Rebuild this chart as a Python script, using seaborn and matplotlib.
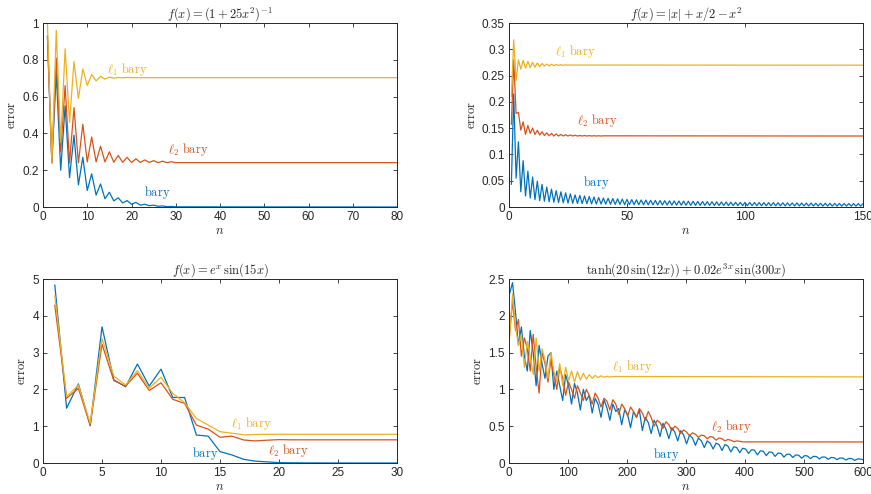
import numpy as np
import pandas as pd
import seaborn as sns
import matplotlib.pyplot as plt
from matplotlib.ticker import FormatStrFormatter

# colores tipo MATLAB
c_bary = '#0072BD'
c_l2 = '#D95319'
c_l1 = '#EDB120'

# ---- panel 1: f(x) = (1+25x^2)^-1
n1 = list(range(1, 31)) + [80]
p1_bary = [0.93, 0.24, 0.73, 0.20, 0.55, 0.16, 0.39, 0.12, 0.27, 0.09,
           0.18, 0.065, 0.125, 0.045, 0.08, 0.033, 0.05, 0.022, 0.035, 0.015,
           0.025, 0.01, 0.015, 0.007, 0.01, 0.004, 0.006, 0.002, 0.003, 0.001,
           0.0]
p1_l2 = [0.93, 0.24, 0.81, 0.30, 0.66, 0.24, 0.54, 0.24, 0.45, 0.245,
         0.38, 0.245, 0.33, 0.245, 0.30, 0.243, 0.28, 0.243, 0.27, 0.242,
         0.262, 0.242, 0.256, 0.242, 0.252, 0.241, 0.249, 0.241, 0.246, 0.241,
         0.241]
p1_l1 = [1.0, 0.24, 0.96, 0.35, 0.86, 0.46, 0.79, 0.59, 0.75, 0.66,
         0.72, 0.685, 0.71, 0.695, 0.705, 0.70, 0.704, 0.702, 0.704, 0.703,
         0.703, 0.703, 0.703, 0.703, 0.703, 0.703, 0.703, 0.703, 0.703, 0.703,
         0.703]

# ---- panel 2: f(x) = |x| + x/2 - x^2
n2_bary = list(range(1, 151))
p2_bary = [0.043, 0.215, 0.055, 0.124, 0.029, 0.088, 0.021, 0.068, 0.017, 0.057,
           0.014, 0.049, 0.012, 0.043, 0.011, 0.038, 0.010, 0.034, 0.009, 0.031,
           0.0085, 0.029, 0.008, 0.027, 0.0075, 0.025, 0.007, 0.023, 0.0068, 0.022,
           0.0065, 0.021, 0.0063, 0.020, 0.006, 0.019, 0.0058, 0.018, 0.0056, 0.017,
           0.0054, 0.0165, 0.0052, 0.016, 0.005, 0.0155, 0.0048, 0.015, 0.0046, 0.0145,
           0.0045, 0.014, 0.0044, 0.0137, 0.0043, 0.0134, 0.0042, 0.0131, 0.0041, 0.0128,
           0.004, 0.0125, 0.0039, 0.0122, 0.0038, 0.012, 0.0037, 0.0118, 0.0036, 0.0116,
           0.0035, 0.0114, 0.0034, 0.0112, 0.0033, 0.011, 0.0032, 0.0108, 0.0031, 0.0106,
           0.003, 0.0104, 0.003, 0.0102, 0.0029, 0.01, 0.0029, 0.0098, 0.0028, 0.0096,
           0.0028, 0.0094, 0.0027, 0.0092, 0.0027, 0.009, 0.0026, 0.0089, 0.0026, 0.0088,
           0.0025, 0.0087, 0.0025, 0.0086, 0.0024, 0.0085, 0.0024, 0.0084, 0.0023, 0.0083,
           0.0023, 0.0082, 0.0022, 0.0081, 0.0022, 0.008, 0.0021, 0.0079, 0.0021, 0.0078,
           0.002, 0.0077, 0.002, 0.0076, 0.002, 0.0075, 0.0019, 0.0074, 0.0019, 0.0073,
           0.0019, 0.0072, 0.0018, 0.0071, 0.0018, 0.007, 0.0018, 0.0069, 0.0017, 0.0068,
           0.0017, 0.0067, 0.0017, 0.0066, 0.0016, 0.0066, 0.0016, 0.0065, 0.0016, 0.0065]
n2_l2 = list(range(1, 41)) + [150]
p2_l2 = [0.157, 0.28, 0.178, 0.18, 0.146, 0.162, 0.138, 0.155, 0.14, 0.15,
         0.138, 0.146, 0.137, 0.143, 0.136, 0.141, 0.1355, 0.14, 0.135, 0.139,
         0.135, 0.138, 0.135, 0.1375, 0.135, 0.137, 0.135, 0.1365, 0.135, 0.136,
         0.135, 0.136, 0.135, 0.1358, 0.135, 0.1356, 0.135, 0.1355, 0.135, 0.1354,
         0.135]
n2_l1 = list(range(1, 31)) + [150]
p2_l1 = [0.21, 0.318, 0.24, 0.28, 0.262, 0.279, 0.264, 0.277, 0.265, 0.275,
         0.266, 0.274, 0.267, 0.273, 0.268, 0.272, 0.2685, 0.2715, 0.269, 0.271,
         0.2693, 0.2707, 0.2695, 0.2705, 0.2697, 0.2703, 0.2698, 0.2702, 0.27, 0.27,
         0.2698]

# ---- panel 3: f(x) = e^x sin(15x)
n3 = list(range(1, 31))
p3_bary = [4.84, 1.49, 2.15, 1.01, 3.70, 2.26, 2.07, 2.69, 2.09, 2.55,
           1.78, 1.78, 0.76, 0.73, 0.31, 0.22, 0.10, 0.05, 0.03, 0.01,
           0.005, 0.003, 0.002, 0.001, 0.001, 0.0, 0.0, 0.0, 0.0, 0.0]
p3_l2 = [4.29, 1.76, 2.03, 1.03, 3.23, 2.24, 2.09, 2.44, 1.97, 2.18,
         1.73, 1.62, 1.03, 0.92, 0.70, 0.73, 0.625, 0.60, 0.62, 0.635,
         0.63, 0.63, 0.63, 0.63, 0.63, 0.63, 0.63, 0.63, 0.63, 0.63]
p3_l1 = [4.55, 1.80, 2.12, 1.08, 3.39, 2.36, 2.12, 2.51, 2.03, 2.33,
         1.89, 1.64, 1.21, 1.03, 0.85, 0.81, 0.765, 0.775, 0.78, 0.78,
         0.78, 0.78, 0.78, 0.78, 0.78, 0.78, 0.78, 0.78, 0.78, 0.78]

# ---- panel 4: tanh(20 sin(12x)) + 0.02 e^{3x} sin(300x)
n4_bary = list(range(1, 600, 5)) + [600]
p4_bary = [2.30, 2.45, 2.05, 1.60, 1.85, 1.45, 1.25, 1.80, 1.50, 1.05,
           1.60, 1.35, 1.15, 1.45, 1.50, 1.00, 1.25, 1.05, 0.85, 1.20,
           1.05, 0.80, 1.08, 0.95, 0.72, 1.00, 0.85, 0.92, 0.68, 0.88,
           0.80, 0.62, 0.86, 0.75, 0.58, 0.80, 0.70, 0.74, 0.52, 0.72,
           0.66, 0.48, 0.70, 0.62, 0.72, 0.44, 0.62, 0.55, 0.40, 0.58,
           0.50, 0.36, 0.54, 0.46, 0.33, 0.48, 0.42, 0.30, 0.44, 0.38,
           0.26, 0.38, 0.34, 0.24, 0.34, 0.30, 0.21, 0.30, 0.27, 0.19,
           0.27, 0.25, 0.17, 0.25, 0.23, 0.15, 0.22, 0.21, 0.14, 0.20,
           0.19, 0.13, 0.18, 0.175, 0.11, 0.165, 0.16, 0.10, 0.15, 0.145,
           0.09, 0.135, 0.13, 0.08, 0.12, 0.118, 0.075, 0.11, 0.105, 0.065,
           0.10, 0.095, 0.06, 0.09, 0.088, 0.055, 0.082, 0.08, 0.05, 0.075,
           0.072, 0.045, 0.068, 0.066, 0.04, 0.062, 0.06, 0.035, 0.056, 0.054,
           0.045]
n4_l2 = list(range(1, 400, 5)) + [600]
p4_l2 = [1.75, 2.20, 1.80, 1.95, 1.45, 1.70, 1.55, 1.25, 1.75, 1.30,
         0.95, 1.50, 1.35, 1.10, 1.40, 1.20, 1.00, 1.30, 1.15, 0.92,
         1.10, 1.00, 0.88, 1.05, 0.95, 0.85, 1.00, 0.92, 0.80, 0.95,
         0.88, 0.76, 0.88, 0.84, 0.72, 0.86, 0.80, 0.66, 0.80, 0.74,
         0.64, 0.76, 0.70, 0.62, 0.74, 0.68, 0.58, 0.70, 0.62, 0.50,
         0.58, 0.55, 0.47, 0.56, 0.52, 0.44, 0.50, 0.47, 0.40, 0.45,
         0.42, 0.37, 0.41, 0.39, 0.35, 0.38, 0.37, 0.33, 0.36, 0.35,
         0.31, 0.34, 0.33, 0.30, 0.32, 0.31, 0.29, 0.30, 0.295, 0.287,
         0.286]
n4_l1 = list(range(1, 180, 5)) + [600]
p4_l1 = [1.70, 2.30, 1.85, 1.60, 1.75, 1.30, 1.65, 1.45, 1.20, 1.70,
         1.25, 1.55, 1.40, 1.15, 1.50, 1.25, 1.10, 1.35, 1.05, 1.30,
         1.12, 1.25, 1.10, 1.24, 1.13, 1.22, 1.14, 1.20, 1.15, 1.19,
         1.16, 1.185, 1.165, 1.178, 1.168, 1.175,
         1.17]

paneles = [
    dict(title=r'$f(x) = (1+25x^2)^{-1}$', xlim=(0, 80), ylim=(0, 1),
         xt=np.arange(0, 81, 10), yt=np.arange(0, 1.01, 0.2),
         series=[(n1, p1_bary, c_bary), (n1, p1_l2, c_l2), (n1, p1_l1, c_l1)],
         labels=[(14.4, 0.75, r'$\ell_1\ \mathrm{bary}$', c_l1),
                 (28.3, 0.315, r'$\ell_2\ \mathrm{bary}$', c_l2),
                 (22.9, 0.077, r'$\mathrm{bary}$', c_bary)]),
    dict(title=r'$f(x) = |x| + x/2 - x^2$', xlim=(0, 150), ylim=(0, 0.35),
         xt=[0, 50, 100, 150], yt=np.arange(0, 0.351, 0.05),
         series=[(n2_bary, p2_bary, c_bary), (n2_l2, p2_l2, c_l2), (n2_l1, p2_l1, c_l1)],
         labels=[(19.5, 0.295, r'$\ell_1\ \mathrm{bary}$', c_l1),
                 (29.0, 0.164, r'$\ell_2\ \mathrm{bary}$', c_l2),
                 (31.2, 0.047, r'$\mathrm{bary}$', c_bary)]),
    dict(title=r'$f(x) = e^x\,\sin(15x)$', xlim=(0, 30), ylim=(0, 5),
         xt=np.arange(0, 31, 5), yt=np.arange(0, 5.1, 1),
         series=[(n3, p3_bary, c_bary), (n3, p3_l2, c_l2), (n3, p3_l1, c_l1)],
         labels=[(15.9, 1.06, r'$\ell_1\ \mathrm{bary}$', c_l1),
                 (19.1, 0.35, r'$\ell_2\ \mathrm{bary}$', c_l2),
                 (12.6, 0.26, r'$\mathrm{bary}$', c_bary)]),
    dict(title=r'$\tanh(20\,\sin(12x)) + 0.02e^{3x}\,\sin(300x)$', xlim=(0, 600), ylim=(0, 2.5),
         xt=np.arange(0, 601, 100), yt=np.arange(0, 2.51, 0.5),
         series=[(n4_bary, p4_bary, c_bary), (n4_l2, p4_l2, c_l2), (n4_l1, p4_l1, c_l1)],
         labels=[(174, 1.31, r'$\ell_1\ \mathrm{bary}$', c_l1),
                 (342, 0.50, r'$\ell_2\ \mathrm{bary}$', c_l2),
                 (244, 0.12, r'$\mathrm{bary}$', c_bary)]),
]

sns.set_style('ticks')
plt.rcParams['font.family'] = ['Liberation Sans', 'DejaVu Sans']
plt.rcParams['mathtext.fontset'] = 'cm'

fig = plt.figure(figsize=(8.71, 4.94), dpi=100)
W, H = 871, 494
cajas = [(43, 23), (509, 23), (43, 279), (509, 279)]

for (x0, y0), p in zip(cajas, paneles):
    ax = fig.add_axes([x0 / W, (H - y0 - 184) / H, 354 / W, 184 / H])
    for xs, ys, c in p['series']:
        sns.lineplot(x=xs, y=ys, ax=ax, color=c, lw=0.9)
    for tx, ty, s, c in p['labels']:
        ax.text(tx, ty, s, color=c, fontsize=9, va='center', ha='left')
    ax.set_xlim(*p['xlim'])
    ax.set_ylim(*p['ylim'])
    ax.set_xticks(p['xt'])
    ax.set_yticks(p['yt'])
    ax.yaxis.set_major_formatter(FormatStrFormatter('%g'))
    ax.xaxis.set_major_formatter(FormatStrFormatter('%g'))
    ax.tick_params(direction='in', top=True, right=True, length=3, width=0.6,
                   labelsize=8.5, colors='#262626', pad=3)
    for s in ax.spines.values():
        s.set_linewidth(0.7)
        s.set_color('#262626')
    ax.set_title(p['title'], fontsize=9, pad=4)
    ax.set_xlabel(r'$n$', fontsize=9, labelpad=1)
    ax.set_ylabel(r'$\mathrm{error}$', fontsize=9, labelpad=3)

plt.savefig('out.png', dpi=100)
